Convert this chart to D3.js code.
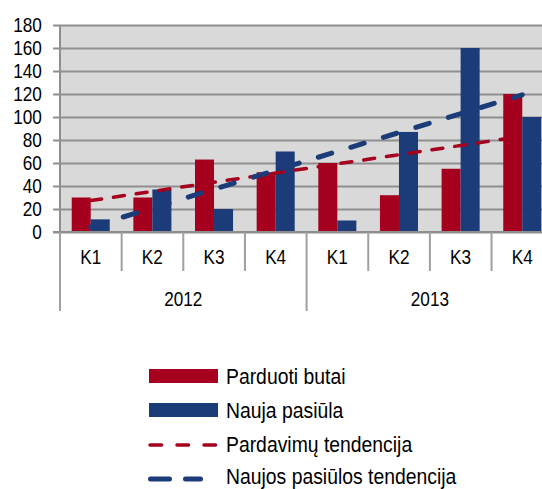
<!DOCTYPE html>
<html>
<head>
<meta charset="utf-8">
<script src="https://cdn.jsdelivr.net/npm/d3@7"></script>
<style>
  body { margin: 0; background: #fff; }
  svg { display: block; overflow: hidden; }
  text { font-family: "Liberation Sans", Arial, sans-serif; fill: #000; }
</style>
</head>
<body>
<div id="wrapper"></div>
<script>
// quarters and years (two level axis)
const quarters = ["K1", "K2", "K3", "K4", "K1", "K2", "K3", "K4"]
const years = ["2012", "2013"]
const yTicks = [0, 20, 40, 60, 80, 100, 120, 140, 160, 180]

// series values
const sold = [30, 30, 63, 52, 60, 32, 55, 120]      // Parduoti butai
const offer = [11, 37, 20, 70, 10, 87, 160, 100]    // Nauja pasiūla

// trend lines, value at first and last quarter
const soldTrend = [27.3, 83.2]
const offerTrend = [4.4, 119.3]

const legendNames = ["Parduoti butai", "Nauja pasiūla", "Pardavimų tendencija", "Naujos pasiūlos tendencija"]

const red = "#a5001e", blue = "#1b3c78"
const width = 542, height = 489
const plotL = 60, plotR = 553, plotT = 25, plotB = 232
const narrow = 0.86  // text in the original looks condensed

const svg = d3.select("#wrapper")
    .append("svg")
    .attr("width", width)
    .attr("height", height)

const idx = d3.range(quarters.length)
const x0 = d3.scaleBand()
    .domain(idx)
    .range([plotL, plotR])
    .paddingInner(0.383)
    .paddingOuter(0.19)
const step = x0.step()
const x1 = d3.scaleBand()
    .domain(["sold", "offer"])
    .range([0, x0.bandwidth()])
const y = d3.scaleLinear()
    .domain([0, 180])
    .range([plotB, plotT])

// plot area
svg.append("rect")
    .attr("x", plotL).attr("y", plotT)
    .attr("width", plotR - plotL).attr("height", plotB - plotT)
    .attr("fill", "#d9d9d9")

// gridlines + y axis
const yAxis = d3.axisLeft(y)
    .tickValues(yTicks)
    .tickSize(-(plotR - plotL + 7))
    .tickPadding(13)
svg.append("g")
    .attr("transform", `translate(${plotL - 7},0)`)
    .call(yAxis)
    .call(g => g.select(".domain").remove())
    .call(g => g.selectAll(".tick line").attr("stroke", "#8f8f8f").attr("stroke-width", 2))
    .call(g => g.selectAll(".tick text")
        .attr("font-size", 20).attr("font-family", null)
        .attr("transform", `scale(${narrow},1)`))

svg.append("line")
    .attr("x1", plotL).attr("x2", plotL)
    .attr("y1", plotT).attr("y2", plotB)
    .attr("stroke", "#8f8f8f").attr("stroke-width", 2)

// bars
const series = [{key: "sold", values: sold, color: red}, {key: "offer", values: offer, color: blue}]
series.forEach(function(s) {
    svg.append("g").selectAll("rect")
        .data(s.values)
        .enter()
        .append("rect")
            .attr("x", (d, i) => x0(i) + x1(s.key))
            .attr("y", d => y(d))
            .attr("width", x1.bandwidth())
            .attr("height", d => y(0) - y(d))
            .attr("fill", s.color)
})

// trend lines
const cx = i => x0(i) + x0.bandwidth() / 2
const last = quarters.length - 1
svg.append("line")
    .attr("x1", cx(0)).attr("y1", y(soldTrend[0]))
    .attr("x2", cx(last)).attr("y2", y(soldTrend[1]))
    .attr("stroke", red).attr("stroke-width", 3.5)
    .attr("stroke-dasharray", "11,12").attr("stroke-linecap", "round")
svg.append("line")
    .attr("x1", cx(0)).attr("y1", y(offerTrend[0]))
    .attr("x2", cx(last)).attr("y2", y(offerTrend[1]))
    .attr("stroke", blue).attr("stroke-width", 5)
    .attr("stroke-dasharray", "14,20").attr("stroke-linecap", "round")

// x axis line
svg.append("line")
    .attr("x1", plotL - 7).attr("x2", plotR)
    .attr("y1", plotB).attr("y2", plotB)
    .attr("stroke", "#8f8f8f").attr("stroke-width", 2)

// category separators
const xa = svg.append("g")
d3.range(quarters.length + 1).forEach(function(i) {
    const xx = plotL + i * step
    const long = i % 4 == 0
    xa.append("line")
        .attr("x1", xx).attr("x2", xx)
        .attr("y1", plotB).attr("y2", long ? 311 : 271)
        .attr("stroke", "#a0a0a0").attr("stroke-width", 2)
})
xa.selectAll(".q")
    .data(quarters)
    .enter()
    .append("text")
        .attr("transform", (d, i) => `translate(${cx(i)},264) scale(${narrow},1)`)
        .attr("text-anchor", "middle")
        .attr("font-size", 20)
        .text(d => d)
xa.selectAll(".yr")
    .data(years)
    .enter()
    .append("text")
        .attr("transform", (d, i) => `translate(${plotL + (i * 4 + 2) * step},306) scale(${narrow},1)`)
        .attr("text-anchor", "middle")
        .attr("font-size", 20)
        .text(d => d)

// legend
const lg = svg.append("g")
lg.append("rect").attr("x", 149).attr("y", 369).attr("width", 69).attr("height", 14).attr("fill", red)
lg.append("rect").attr("x", 149).attr("y", 403).attr("width", 69).attr("height", 14).attr("fill", blue)
lg.append("line").attr("x1", 150).attr("x2", 216).attr("y1", 445).attr("y2", 445)
    .attr("stroke", red).attr("stroke-width", 3.5).attr("stroke-dasharray", "11.5,15.5").attr("stroke-linecap", "round")
lg.append("line").attr("x1", 150.5).attr("x2", 200.5).attr("y1", 479).attr("y2", 479)
    .attr("stroke", blue).attr("stroke-width", 5).attr("stroke-dasharray", "19,16").attr("stroke-linecap", "round")
const textY = [384, 418, 452, 484]
lg.selectAll("text")
    .data(legendNames)
    .enter()
    .append("text")
        .attr("transform", (d, i) => `translate(226,${textY[i]}) scale(0.88,1)`)
        .attr("font-size", 22)
        .text(d => d)
</script>
</body>
</html>
